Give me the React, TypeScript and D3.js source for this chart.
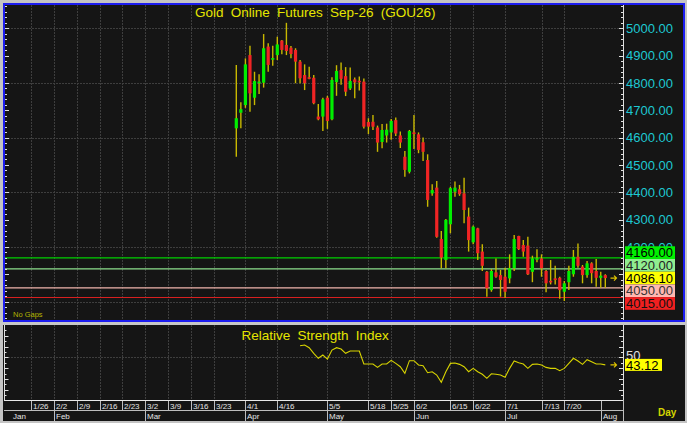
import React, { useEffect, useRef } from 'react';
import * as d3 from 'd3';

// daily bars, slot 0 = first session on the chart
const opens = [4634, 4691, 4719, 4902, 4746, 4803, 4801, 4933, 4889, 4902, 4955, 4939, 4929, 4921, 4878, 4829, 4821, 4819, 4677, 4677,
  4746, 4667, 4803, 4847, 4825, 4780, 4813, 4808, 4805, 4657, 4658, 4637, 4584, 4608, 4619, 4664, 4608, 4530, 4475, 4619,
  4612, 4583, 4518, 4396, 4417, 4229, 4152, 4283, 4402, 4411, 4396, 4311, 4217, 4268, 4183, 4109, 4042, 4107, 4097, 4091,
  4085, 4122, 4240, 4207, 4205, 4109, 4157, 4158, 4112, 4076, 4085, 4087, 4036, 4071, 4100, 4164, 4128, 4097, 4140, 4112,
  4087, 4097];
const highs = [4866, 4729, 4890, 4936, 4841, 4832, 4979, 4945, 4936, 4969, 4957, 5020, 4935, 4927, 4884, 4868, 4859, 4829, 4723, 4746,
  4753, 4821, 4865, 4875, 4858, 4857, 4820, 4824, 4816, 4671, 4683, 4644, 4650, 4651, 4668, 4674, 4622, 4551, 4628, 4683,
  4619, 4600, 4539, 4429, 4441, 4258, 4302, 4420, 4439, 4427, 4453, 4344, 4278, 4270, 4210, 4112, 4119, 4158, 4116, 4124,
  4173, 4244, 4241, 4225, 4237, 4168, 4192, 4173, 4116, 4152, 4131, 4091, 4075, 4131, 4189, 4213, 4134, 4149, 4144, 4156,
  4109, 4100];
const lows = [4530, 4634, 4709, 4695, 4719, 4760, 4783, 4841, 4863, 4884, 4905, 4902, 4890, 4799, 4799, 4774, 4814, 4722, 4664, 4624,
  4632, 4664, 4753, 4793, 4752, 4774, 4744, 4772, 4633, 4613, 4628, 4548, 4561, 4582, 4592, 4606, 4562, 4457, 4469, 4558,
  4543, 4514, 4347, 4387, 4234, 4122, 4122, 4250, 4384, 4387, 4287, 4183, 4210, 4152, 4112, 4018, 4036, 4087, 4018, 4014,
  4067, 4112, 4189, 4164, 4097, 4071, 4144, 4091, 4034, 4063, 4063, 4010, 4002, 4042, 4091, 4124, 4067, 4087, 4067, 4054,
  4051, 4051];
const closes = [4671, 4704, 4868, 4762, 4807, 4805, 4927, 4866, 4891, 4941, 4921, 4917, 4906, 4878, 4817, 4799, 4818, 4726, 4667, 4740,
  4661, 4811, 4844, 4815, 4768, 4807, 4802, 4806, 4640, 4640, 4640, 4582, 4628, 4629, 4661, 4615, 4582, 4482, 4624, 4615,
  4555, 4548, 4372, 4408, 4237, 4161, 4299, 4415, 4417, 4393, 4335, 4225, 4274, 4177, 4131, 4049, 4112, 4091, 4079, 4036,
  4122, 4229, 4192, 4183, 4100, 4158, 4159, 4122, 4067, 4075, 4079, 4042, 4067, 4112, 4164, 4131, 4097, 4140, 4104, 4087,
  4095, 4086.1];

// 14-period RSI, first value on slot 14
const rsiFirstSlot = 14;
const rsiValues = [60.8, 61.5, 59.0, 53.8, 49.2, 52.2, 48.5, 56.8, 59.0, 57.8, 53.8, 55.9, 55.9, 55.9, 43.9, 43.9, 43.9, 40.8,
  43.9, 43.9, 47.3, 44.5, 41.4, 35.3, 47.0, 47.0, 43.0, 42.3, 35.9, 36.8, 33.7, 27.0, 36.8, 44.5, 44.8, 43.6, 41.4, 36.8,
  39.9, 36.8, 34.4, 30.7, 34.9, 34.4, 33.7, 31.6, 39.9, 46.7, 45.1, 43.9, 39.9, 43.6, 43.9, 43.0, 40.8, 39.9, 39.9, 37.7,
  39.9, 44.5, 49.2, 46.7, 43.6, 47.9, 46.0, 43.9, 43.9, 43.12];

const dateTickLabels = ['1/26', '2/2', '2/9', '2/16', '2/23', '3/2', '3/9', '3/16', '3/23', '4/1', '4/16', '5/5', '5/18', '5/25',
  '6/2', '6/15', '6/22', '7/1', '7/13', '7/20'];
const dateTickSlots = [-45, -40, -35, -30, -25, -20, -15, -10, -5, 2, 9, 20, 29, 34, 39, 47, 52, 59, 67, 72];
const monthLabels = ['Jan', 'Feb', 'Mar', 'Apr', 'May', 'Jun', 'Jul', 'Aug'];
const monthSlots = [-51, -40, -20, 2, 20, 39, 59, 80];

// 4000 and 4100 sit under the level boxes, so only these are printed
const priceLabels = [4200, 4300, 4400, 4500, 4600, 4700, 4800, 4900, 5000];
const priceGrid = [4000, 4200, 4400, 4600, 4800, 5000];
const levelValues = [4160, 4120, 4050, 4015];
const lastPrice = 4086.1;
const lastRsi = 43.12;
const rsiGrid = [50];

const W = 687;
const H = 423;
const FONT = "'Liberation Sans', Arial, sans-serif";

const levelStyle: Record<number, { line: string; box: string; text: string }> = {
  4160: { line: '#00d000', box: '#00f000', text: '#000' },
  4120: { line: '#8ee08e', box: '#90ee90', text: '#222' },
  4050: { line: '#f0b4ac', box: '#ffb8b0', text: '#333' },
  4015: { line: '#d82020', box: '#f02020', text: '#111' },
};

const App: React.FC = () => {
  const ref = useRef<SVGSVGElement>(null);

  useEffect(() => {
    const svg = d3.select(ref.current);
    svg.selectAll('*').remove();

    const plotL = 5, plotR = 623;
    const topT = 5, topB = 320;
    const rsiT = 325, rsiB = 400.5;

    const x = d3.scaleLinear().domain([0, 81]).range([236.3, 605.3]);
    const y = d3.scaleLinear().domain([4000, 5000]).range([301.6, 28.3]);
    const yr = d3.scaleLinear().domain([10, 80]).range([400.7, 325]);

    // frame and panels
    svg.append('rect').attr('width', W).attr('height', H).attr('fill', '#c4c4c4');
    svg.append('rect').attr('x', 3).attr('y', 325).attr('width', 682).attr('height', 96).attr('fill', '#151515');
    svg.append('rect').attr('x', 4).attr('y', 4).attr('width', 680).attr('height', 317)
      .attr('fill', '#151515').attr('stroke', '#1c1cf0').attr('stroke-width', 2);

    const grid = svg.append('g').attr('stroke', '#3e3e3e').attr('stroke-dasharray', '2,1').attr('stroke-width', 1);
    priceGrid.forEach(v => {
      grid.append('line').attr('x1', plotL).attr('x2', plotR).attr('y1', Math.round(y(v)) + 0.5).attr('y2', Math.round(y(v)) + 0.5);
    });
    rsiGrid.forEach(v => {
      grid.append('line').attr('x1', plotL).attr('x2', plotR).attr('y1', Math.round(yr(v)) + 0.5).attr('y2', Math.round(yr(v)) + 0.5);
    });
    dateTickSlots.forEach(s => {
      const gx = Math.round(x(s)) + 0.5;
      grid.append('line').attr('x1', gx).attr('x2', gx).attr('y1', topT).attr('y2', topB);
      grid.append('line').attr('x1', gx).attr('x2', gx).attr('y1', rsiT).attr('y2', rsiB);
    });

    // title
    svg.append('text').attr('x', 195).attr('y', 16.5).attr('fill', '#e6e600')
      .attr('font-family', FONT).attr('font-size', 13.5).attr('word-spacing', 3.5)
      .text('Gold Online Futures Sep-26 (GOU26)');
    svg.append('text').attr('x', 13).attr('y', 317).attr('fill', '#b4b400')
      .attr('font-family', FONT).attr('font-size', 7.5).text('No Gaps');

    // horizontal level lines
    levelValues.forEach(v => {
      svg.append('line').attr('x1', plotL).attr('x2', plotR).attr('y1', y(v)).attr('y2', y(v))
        .attr('stroke', levelStyle[v].line).attr('stroke-width', 1.2);
    });

    // candles
    const candles = svg.append('g');
    opens.forEach((o, i) => {
      const cx = x(i);
      const c = closes[i];
      candles.append('line').attr('x1', cx).attr('x2', cx).attr('y1', y(highs[i])).attr('y2', y(lows[i]))
        .attr('stroke', '#c8b800').attr('stroke-width', 1.4);
      const top = y(Math.max(o, c));
      const h = Math.max(1.6, Math.abs(y(o) - y(c)));
      candles.append('rect').attr('x', cx - 1.6).attr('width', 3.2).attr('y', top).attr('height', h)
        .attr('fill', c >= o ? '#00ee00' : '#f02424');
    });

    // last price marker
    const arrow = (ay: number) => {
      svg.append('path').attr('d', `M610.5,${ay} h6 M614,${ay - 2.5} l2.5,2.5 l-2.5,2.5`)
        .attr('stroke', '#e0c400').attr('stroke-width', 1.2).attr('fill', 'none');
    };
    arrow(y(lastPrice));

    // right and left price axes
    const axisStroke = '#e0e0e0';
    svg.append('line').attr('x1', plotR + 0.5).attr('x2', plotR + 0.5).attr('y1', topT).attr('y2', topB)
      .attr('stroke', axisStroke);
    d3.range(3940, 5081, 20).forEach(v => {
      const ty = Math.round(y(v)) + 0.5;
      const len = v % 100 === 0 ? 4 : 2;
      svg.append('line').attr('x1', plotR - len).attr('x2', plotR).attr('y1', ty).attr('y2', ty).attr('stroke', axisStroke);
      svg.append('line').attr('x1', plotL).attr('x2', plotL + len).attr('y1', ty).attr('y2', ty).attr('stroke', axisStroke);
    });
    priceLabels.forEach(v => {
      svg.append('text').attr('x', 626).attr('y', y(v)).attr('dy', '0.36em').attr('fill', '#1ec8d2')
        .attr('font-family', FONT).attr('font-size', 13).text(d3.format('.2f')(v));
    });

    // level boxes stacked around their values
    const boxes = [
      { v: 4160, ...levelStyle[4160] },
      { v: 4120, ...levelStyle[4120] },
      { v: lastPrice, line: '#ff0', box: '#ffff00', text: '#000' },
      { v: 4050, ...levelStyle[4050] },
      { v: 4015, ...levelStyle[4015] },
    ];
    const bh = 12.7;
    const meanY = d3.mean(boxes, b => y(b.v)) as number;
    boxes.forEach((b, k) => {
      const cy = meanY + (k - (boxes.length - 1) / 2) * bh;
      svg.append('rect').attr('x', 625).attr('y', cy - bh / 2).attr('width', 50).attr('height', bh).attr('fill', b.box);
      svg.append('text').attr('x', 626).attr('y', cy).attr('dy', '0.36em').attr('fill', b.text)
        .attr('font-family', FONT).attr('font-size', 13).text(d3.format('.2f')(b.v));
    });

    // panel separator
    svg.append('rect').attr('x', 0).attr('y', 322).attr('width', W).attr('height', 3).attr('fill', '#c8c8c8');

    // RSI panel
    svg.append('text').attr('x', 241.5).attr('y', 339.5).attr('fill', '#e6e600')
      .attr('font-family', FONT).attr('font-size', 13.5).attr('word-spacing', 3.5)
      .text('Relative Strength Index');
    const rsiLine = d3.line<number>().x((_, i) => x(i + rsiFirstSlot)).y(d => yr(d));
    svg.append('path').datum(rsiValues).attr('d', rsiLine).attr('fill', 'none')
      .attr('stroke', '#d8d400').attr('stroke-width', 1.1);
    arrow(yr(lastRsi));

    svg.append('line').attr('x1', 4.5).attr('x2', 4.5).attr('y1', rsiT).attr('y2', rsiB).attr('stroke', axisStroke);
    svg.append('line').attr('x1', plotR + 0.5).attr('x2', plotR + 0.5).attr('y1', rsiT).attr('y2', rsiB).attr('stroke', axisStroke);
    d3.range(15, 80, 5).forEach(v => {
      const ty = Math.round(yr(v)) + 0.5;
      const len = v % 10 === 0 ? 4 : 2;
      svg.append('line').attr('x1', plotR - len).attr('x2', plotR).attr('y1', ty).attr('y2', ty).attr('stroke', axisStroke);
      svg.append('line').attr('x1', 4.5).attr('x2', 4.5 + len).attr('y1', ty).attr('y2', ty).attr('stroke', axisStroke);
    });
    rsiGrid.forEach(v => {
      svg.append('text').attr('x', 626).attr('y', yr(v) - 2).attr('dy', '0.36em').attr('fill', '#e0e0e0')
        .attr('font-family', FONT).attr('font-size', 13).text(String(v));
    });
    svg.append('rect').attr('x', 625).attr('y', yr(lastRsi) - 6).attr('width', 37).attr('height', 12).attr('fill', '#ffff00');
    svg.append('text').attr('x', 626).attr('y', yr(lastRsi)).attr('dy', '0.36em').attr('fill', '#000')
      .attr('font-family', FONT).attr('font-size', 13).text(lastRsi.toFixed(2));

    // date axis
    const sep = '#bdbdbd';
    svg.append('line').attr('x1', 4).attr('x2', plotR).attr('y1', 400.5).attr('y2', 400.5).attr('stroke', '#e8e8e8');
    svg.append('line').attr('x1', 4).attr('x2', plotR).attr('y1', 410.5).attr('y2', 410.5).attr('stroke', sep);
    svg.append('line').attr('x1', plotR + 0.5).attr('x2', plotR + 0.5).attr('y1', 400).attr('y2', 421).attr('stroke', sep);
    dateTickLabels.forEach((lab, k) => {
      const tx = Math.round(x(dateTickSlots[k])) + 0.5;
      svg.append('line').attr('x1', tx).attr('x2', tx).attr('y1', 401).attr('y2', 410).attr('stroke', sep);
      svg.append('text').attr('x', tx + 1.5).attr('y', 408.8).attr('fill', '#e6e6e6')
        .attr('font-family', FONT).attr('font-size', 8).text(lab);
    });
    monthLabels.forEach((lab, k) => {
      const mx = Math.round(x(monthSlots[k])) + 0.5;
      if (mx > 8) {
        svg.append('line').attr('x1', mx).attr('x2', mx).attr('y1', 401).attr('y2', 421).attr('stroke', sep);
      }
      svg.append('text').attr('x', Math.max(mx, 11.5) + 1.5).attr('y', 419).attr('fill', '#e6e6e6')
        .attr('font-family', FONT).attr('font-size', 8).text(lab);
    });
    svg.append('text').attr('x', 658).attr('y', 416).attr('fill', '#d4d400')
      .attr('font-family', FONT).attr('font-size', 10).attr('font-weight', 'bold').text('Day');
  }, []);

  return <svg ref={ref} width={W} height={H} style={{ position: 'fixed', left: 0, top: 0, display: 'block' }}></svg>;
};

export default App;
